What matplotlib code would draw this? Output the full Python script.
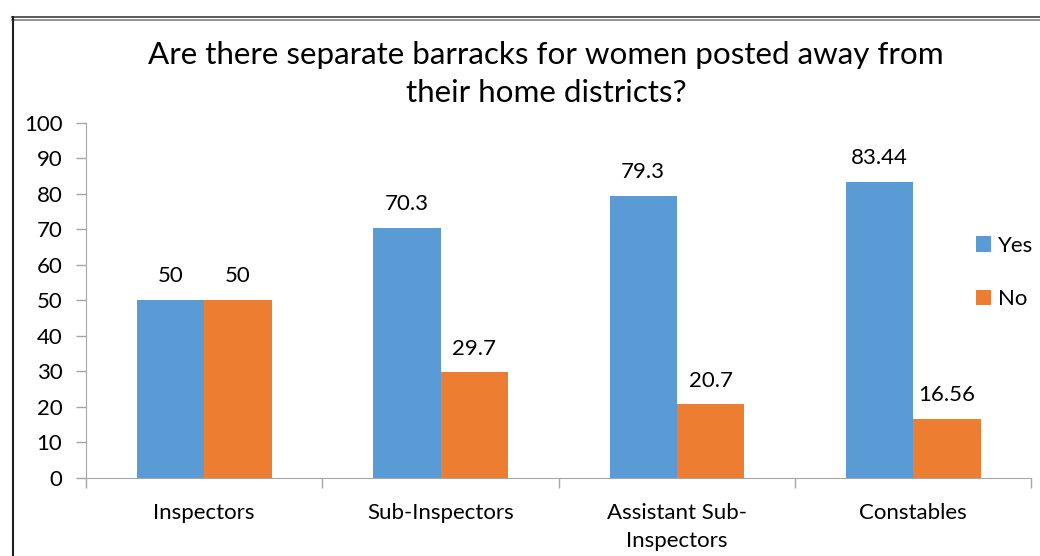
import matplotlib.pyplot as plt
import numpy as np
from matplotlib.lines import Line2D

categories = ["Inspectors", "Sub-Inspectors", "Assistant Sub-\nInspectors", "Constables"]
yes_vals = [50, 70.3, 79.3, 83.44]
no_vals = [50, 29.7, 20.7, 16.56]
yes_labels = ["50", "70.3", "79.3", "83.44"]
no_labels = ["50", "29.7", "20.7", "16.56"]

plt.rcParams['font.family'] = ['Lato', 'DejaVu Sans']

fig = plt.figure(figsize=(10.4, 5.56), dpi=100)
ax = fig.add_axes([0.0827, 0.1403, 0.9091, 0.639])

x = np.arange(len(categories))
w = 0.285
b1 = ax.bar(x - w / 2, yes_vals, w, color="#5B9BD5", label="Yes")
b2 = ax.bar(x + w / 2, no_vals, w, color="#ED7D31", label="No")

for bars, labs in [(b1, yes_labels), (b2, no_labels)]:
    for bar, lab in zip(bars, labs):
        ax.annotate(lab, (bar.get_x() + bar.get_width() / 2, bar.get_height()),
                    xytext=(0, 10), textcoords="offset points",
                    ha="center", va="bottom", fontsize=16)

ax.set_xlim(-0.5, len(categories) - 0.5)
ax.set_ylim(0, 100)
ax.set_yticks(range(0, 101, 10))
ax.tick_params(axis="y", labelsize=16, color="#A6A6A6", length=7, width=1, pad=10)
ax.set_xticks(x)
ax.set_xticklabels(categories, fontsize=16, linespacing=1.5)
ax.tick_params(axis="x", length=0, pad=18)
ax.set_xticks(np.arange(-0.5, len(categories), 1), minor=True)
ax.tick_params(axis="x", which="minor", length=7, color="#A6A6A6", width=1)
for s in ["top", "right"]:
    ax.spines[s].set_visible(False)
for s in ["left", "bottom"]:
    ax.spines[s].set_color("#A6A6A6")

fig.text(0.525, 0.927, "Are there separate barracks for women posted away from\ntheir home districts?",
         ha="center", va="top", fontsize=22.6, linespacing=1.45)

fig.legend(handles=[b1, b2], labels=["Yes", "No"], loc="center left",
           bbox_to_anchor=(0.938, 0.51), frameon=False, fontsize=16,
           handlelength=0.7, handleheight=0.7, handletextpad=0.3,
           labelspacing=1.5, borderaxespad=0, borderpad=0)

# chart border
fig.add_artist(Line2D([12 / 1040, 1], [1 - 17 / 556, 1 - 17 / 556], color="#404040", lw=1.2))
fig.add_artist(Line2D([12 / 1040, 1], [1 - 20 / 556, 1 - 20 / 556], color="#808080", lw=1.2))
fig.add_artist(Line2D([12.5 / 1040, 12.5 / 1040], [0, 1 - 17 / 556], color="#202020", lw=1.5))

fig.savefig("out.png", dpi=100)
